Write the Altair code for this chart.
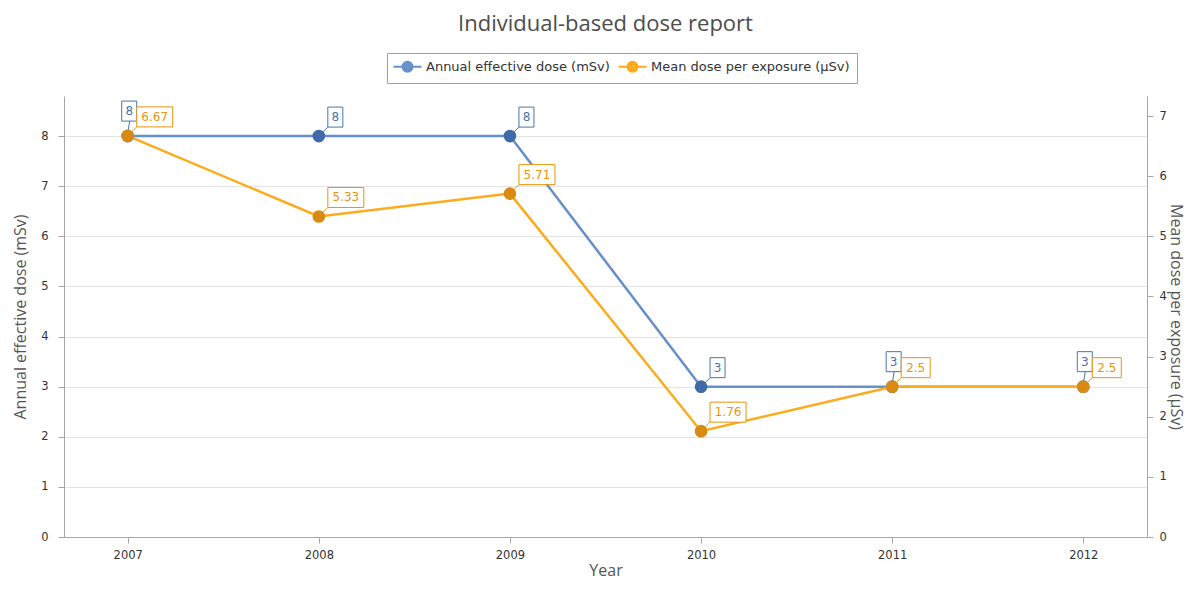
import altair as alt
import pandas as pd

# ---- data ----
years = [2007, 2008, 2009, 2010, 2011, 2012]
annual_effective_dose = [8, 8, 8, 3, 3, 3]
mean_dose_per_exposure = [6.67, 5.33, 5.71, 1.76, 2.5, 2.5]
series_names = ["Annual effective dose (mSv)", "Mean dose per exposure (µSv)"]
left_ticks = [0, 1, 2, 3, 4, 5, 6, 7, 8]
right_ticks = [0, 1, 2, 3, 4, 5, 6, 7]

# ---- styling ----
LEFT_MAX = 8.8
RIGHT_MAX = LEFT_MAX / 1.2
BLUE_LINE = "#6590cb"
BLUE_DOT = "#3f6ca8"
BLUE_TEXT = "#4a74ab"
ORANGE_LINE = "#fcab1c"
ORANGE_DOT = "#d88a12"
ORANGE_TEXT = "#e8940e"
AXIS_GREY = "#a6a6a6"
GRID = "#e3e3e3"
LABEL_FONT = "DejaVu Sans"
TITLE_FONT = "Open Sans"


def fmt(v):
    return f"{v:g}"


def frame(values, name, other=None, own_max=None, other_max=None):
    df = pd.DataFrame({"year": years, "value": values, "series": name})
    df["label"] = [fmt(v) for v in values]
    df["nchar"] = df["label"].str.len()
    if other is not None:
        df["crowded"] = [abs(a / own_max - b / other_max) < 0.03 for a, b in zip(values, other)]
    else:
        df["crowded"] = False
    return df


blue_df = frame(annual_effective_dose, series_names[0], mean_dose_per_exposure, LEFT_MAX, RIGHT_MAX)
orange_df = frame(mean_dose_per_exposure, series_names[1])

x_scale = alt.Scale(domain=[years[0] - 1 / 3, years[-1] + 1 / 3], nice=False, zero=False)
x_axis = alt.Axis(values=years, format="d", title="Year", grid=False,
                  domainColor=AXIS_GREY, tickColor=AXIS_GREY, tickSize=6,
                  labelPadding=6, labelFont=LABEL_FONT, labelFontSize=11.5, labelColor="#333333",
                  titleFont=TITLE_FONT, titleFontSize=16, titleColor="#555555",
                  titleFontWeight="normal", titleY=38, titleBaseline="alphabetic")

color_scale = alt.Scale(domain=series_names, range=[BLUE_LINE, ORANGE_LINE])

LEGEND_PATH = ("M-2.8,0L-1,0M1,0L2.8,0"
               "M-1,0A1,1,0,1,1,1,0A1,1,0,1,1,-1,0"
               "M-0.6,0A0.6,0.6,0,1,1,0.6,0A0.6,0.6,0,1,1,-0.6,0"
               "M-0.25,0A0.25,0.25,0,1,1,0.25,0A0.25,0.25,0,1,1,-0.25,0")

legend = alt.Legend(title=None, orient="none", legendX=323, legendY=-43, direction="horizontal",
                    symbolType=LEGEND_PATH, symbolSize=100, symbolStrokeWidth=2,
                    symbolOffset=7, labelOffset=12, columnPadding=4, labelLimit=400,
                    labelFont=LABEL_FONT, labelFontSize=13, labelColor="#333333",
                    strokeColor="#a0a0a0", fillColor="white", padding=7)


def char_width(n):
    return 7 * n + 8


def series_layers(df, y_scale, y_axis, dot_col, text_col, leg):
    base = alt.Chart(df)
    x_enc = alt.X("year:Q", scale=x_scale, axis=x_axis)
    x2 = alt.X2("year")
    y_enc = alt.Y("value:Q", scale=y_scale, axis=y_axis)
    y2 = alt.Y2("value")

    layers = [
        base.mark_line(strokeWidth=2.5).encode(
            x=x_enc, y=y_enc,
            color=alt.Color("series:N", scale=color_scale, legend=leg)),
    ]
    # connectors
    layers.append(base.transform_filter("!datum.crowded").mark_rule(
        color=text_col, strokeWidth=1, xOffset=2, x2Offset=9, yOffset=-2, y2Offset=-9
    ).encode(x=x_enc, x2=x2, y=y_enc, y2=y2))
    layers.append(base.transform_filter("datum.crowded").mark_rule(
        color=text_col, strokeWidth=1, xOffset=0, x2Offset=2, yOffset=-3, y2Offset=-15
    ).encode(x=x_enc, x2=x2, y=y_enc, y2=y2))
    # points
    layers.append(base.mark_circle(size=160, color=dot_col, opacity=1).encode(x=x_enc, y=y_enc))
    # label boxes + text
    for n in sorted(df["nchar"].unique()):
        w = char_width(int(n))
        sub = base.transform_filter(f"!datum.crowded && datum.nchar == {int(n)}")
        layers.append(sub.mark_rect(fill="white", stroke=text_col, strokeWidth=1,
                                    xOffset=9, x2Offset=9 + w, yOffset=-29, y2Offset=-9)
                      .encode(x=x_enc, x2=x2, y=y_enc, y2=y2))
        layers.append(sub.mark_text(font=LABEL_FONT, fontSize=12, color=text_col,
                                    align="center", baseline="middle", dx=9 + w / 2, dy=-19)
                      .encode(x=x_enc, y=y_enc, text="label:N"))
        subc = base.transform_filter(f"datum.crowded && datum.nchar == {int(n)}")
        layers.append(subc.mark_rect(fill="white", stroke=text_col, strokeWidth=1,
                                     xOffset=9 - w, x2Offset=9, yOffset=-35, y2Offset=-15)
                      .encode(x=x_enc, x2=x2, y=y_enc, y2=y2))
        layers.append(subc.mark_text(font=LABEL_FONT, fontSize=12, color=text_col,
                                     align="center", baseline="middle", dx=9 - w / 2, dy=-25)
                      .encode(x=x_enc, y=y_enc, text="label:N"))
    return alt.layer(*layers)


left_axis = alt.Axis(values=left_ticks, orient="left", title=series_names[0],
                     grid=True, gridColor=GRID, domainColor=AXIS_GREY, tickColor=AXIS_GREY,
                     tickSize=6, labelPadding=10, labelFont=LABEL_FONT, labelFontSize=11.5,
                     labelColor="#333333", titleFont=TITLE_FONT, titleFontSize=16,
                     titleColor="#555555", titleFontWeight="normal", titlePadding=12)
right_axis = alt.Axis(values=right_ticks, orient="right", title=series_names[1],
                      grid=False, domainColor=AXIS_GREY, tickColor=AXIS_GREY,
                      tickSize=6, labelPadding=6, labelFont=LABEL_FONT, labelFontSize=11.5,
                      labelColor="#333333", titleFont=TITLE_FONT, titleFontSize=16,
                      titleColor="#555555", titleFontWeight="normal",
                      titleAngle=90, titleX=23, titleBaseline="alphabetic")

blue_group = series_layers(blue_df, alt.Scale(domain=[0, LEFT_MAX], nice=False, zero=True),
                           left_axis, BLUE_DOT, BLUE_TEXT, legend)
orange_group = series_layers(orange_df, alt.Scale(domain=[0, RIGHT_MAX], nice=False, zero=True),
                             right_axis, ORANGE_DOT, ORANGE_TEXT, legend)

chart = alt.layer(blue_group, orange_group).resolve_scale(y="independent").properties(
    width=1083, height=441,
    title=alt.Title("Individual-based dose report", font=TITLE_FONT, fontSize=22,
                    fontWeight="normal", color="#4d4d4d", anchor="middle", frame="group",
                    offset=17),
    autosize=alt.AutoSizeParams(type="none"),
    padding={"left": 56, "top": 88, "right": 41, "bottom": 42},
).configure_view(stroke=None)

chart.save("out.html", embed_options={"renderer": "svg", "actions": False})
